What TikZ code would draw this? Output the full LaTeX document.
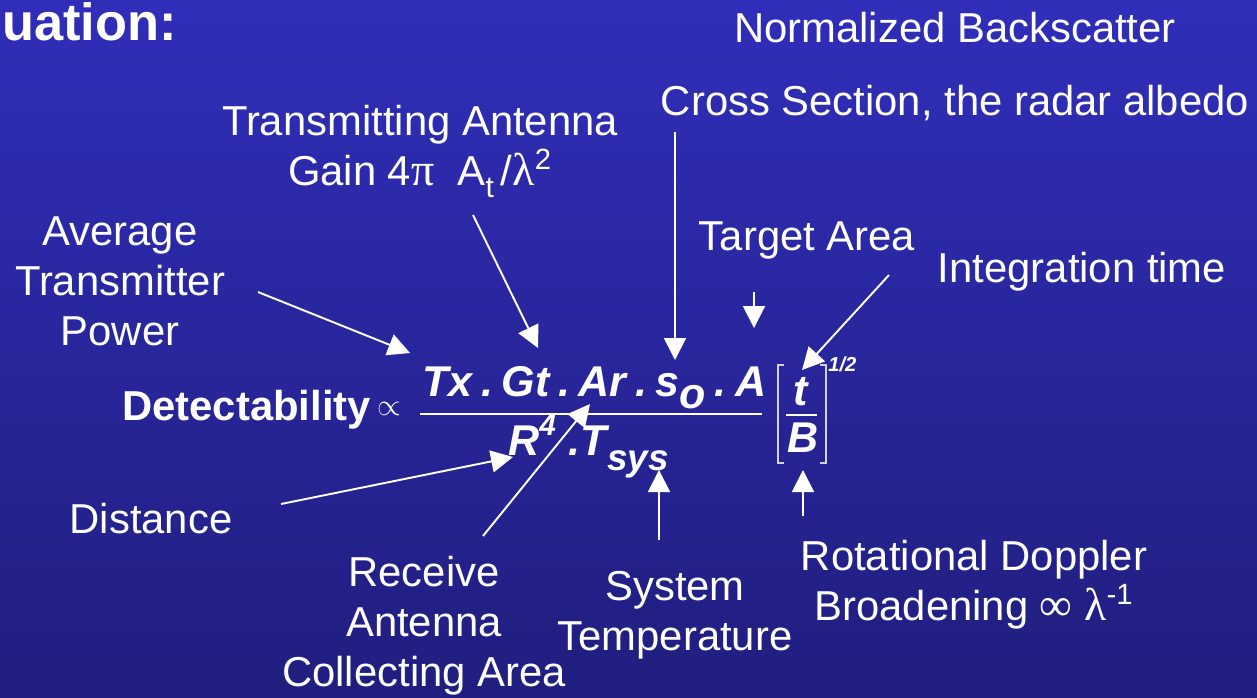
\documentclass[tikz,border=0pt]{standalone}
\usepackage{fontspec}
\setmainfont{Liberation Sans}
\newfontfamily\greekfont[Scale=1.1]{Liberation Serif}
\usetikzlibrary{arrows.meta,calc,positioning}

\definecolor{bgTop}{RGB}{48,46,185}
\definecolor{bgBot}{RGB}{32,30,126}
\newcommand{\labelfont}{\fontsize{23.8}{28.3}\selectfont}
\newcommand{\eqfont}{\fontsize{24.5}{28}\selectfont\bfseries\itshape}
\newcommand{\gk}[1]{{\greekfont #1}}
\newcommand{\gap}{\hspace{0.2em}}

\begin{document}
\begin{tikzpicture}[x=0.02cm, y=-0.02cm,
    lbl/.style={text=white, font=\labelfont, inner sep=0pt, align=center},
    eq/.style={text=white, font=\eqfont, inner sep=0pt},
    arr/.style={white, line width=1.1pt, -{Triangle[length=0.44cm,width=0.44cm]}},
    brk/.style={gray!35!white, line width=0.85pt}]
        \useasboundingbox (0,0) rectangle (1257,697);
        \shade[top color=bgTop, bottom color=bgBot] (0,0) rectangle (1257,697);
        % Judul
        \node[lbl, anchor=base west, font=\fontsize{29.8}{34}\selectfont\bfseries] (title) at (2,40) {uation:};
        % Keterangan (base = baris terakhir)
        \node[lbl, anchor=base] (albedo) at (955,115) {Normalized Backscatter\\[13pt]Cross Section, the radar albedo};
        \node[lbl, anchor=base] (gain) at (420,185) {Transmitting Antenna\\Gain 4\gk{π}\ \ A\raisebox{-0.3em}{\fontsize{17}{17}\selectfont t}\,/\gk{λ}\textsuperscript{2}};
        \node[lbl, anchor=base] (power) at (120,345) {Average\\Transmitter\\Power};
        \node[lbl, anchor=base] (area) at (807,250) {Target Area};
        \node[lbl, anchor=base] (integ) at (1082,282) {Integration time};
        \node[lbl, anchor=base] (dist) at (151,533) {Distance};
        \node[lbl, anchor=base] (recv) at (424,686) {Receive\\Antenna\\Collecting Area};
        \node[lbl, anchor=base] (tsys) at (675,650) {System\\Temperature};
        \node[lbl, anchor=base] (dopp) at (974,620) {Rotational Doppler\\Broadening \gk{∞} \gk{λ}\textsuperscript{-1}};
        % Persamaan
        \node[lbl, anchor=base west, font=\labelfont\bfseries] (det) at (122,420) {Detectability\,{\normalfont\fontsize{17}{20}\selectfont\raisebox{0.15em}{$\propto$}}};
        \node[eq, anchor=base west] (num) at (422,396) {Tx\gap.\gap Gt\gap.\gap Ar\gap.\gap s\raisebox{-0.3em}{o}\gap.\gap A};
        \draw[white, line width=1.6pt] (420,414) -- (762,414);
        \node[eq, anchor=base west] (den) at (508,455) {R\raisebox{0.45em}{\fontsize{17}{17}\selectfont 4}\hspace{0.3em}.T\raisebox{-0.35em}{\fontsize{21}{21}\selectfont sys}};
        \draw[brk] (784,365) -| (778,463) -- (784,463);
        \draw[brk] (820,365) -| (826,463) -- (820,463);
        \node[eq, anchor=base] (tnum) at (801,405) {t};
        \draw[white, line width=1.6pt] (786,415) -- (817,415);
        \node[eq, anchor=base] (bden) at (803,452) {B};
        \node[eq, anchor=base west, font=\fontsize{11.5}{12}\selectfont\bfseries\itshape] (half) at (828,371) {1/2};
        % Panah
        \coordinate (pwT) at (258,292);   \coordinate (pwH) at (410,353);
        \coordinate (gnT) at (473,215);   \coordinate (gnH) at (538,348);
        \coordinate (rcsT) at (675,132);  \coordinate (rcsH) at (675,360);
        \coordinate (arT) at (754,292);   \coordinate (arH) at (754,328);
        \coordinate (inT) at (889,275);   \coordinate (inH) at (802,370);
        \coordinate (dsT) at (281,504);   \coordinate (dsH) at (513,457);
        \coordinate (rvT) at (483,536);   \coordinate (rvH) at (590,404);
        \coordinate (tsT) at (659,540);   \coordinate (tsH) at (659,470);
        \coordinate (dpT) at (803,516);   \coordinate (dpH) at (803,470);
        \draw[arr] (pwT) -- (pwH);
        \draw[arr] (gnT) -- (gnH);
        \draw[arr] (rcsT) -- (rcsH);
        \draw[arr] (arT) -- (arH);
        \draw[arr] (inT) -- (inH);
        \draw[arr] (dsT) -- (dsH);
        \draw[arr] (rvT) -- (rvH);
        \draw[arr] (tsT) -- (tsH);
        \draw[arr] (dpT) -- (dpH);
      \end{tikzpicture}
\end{document}
